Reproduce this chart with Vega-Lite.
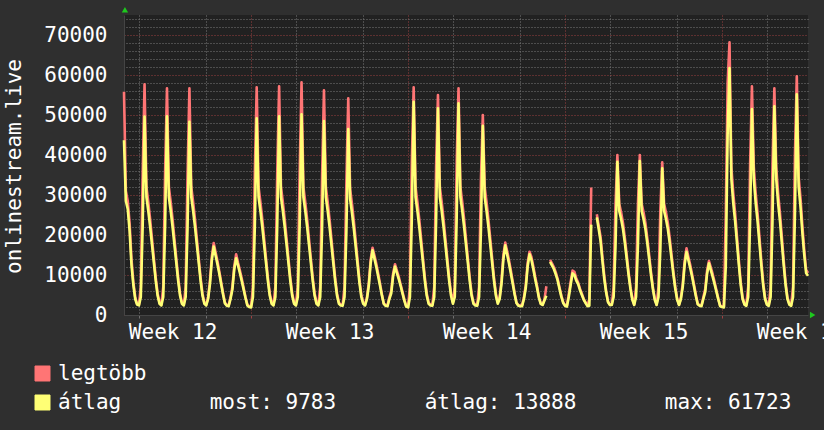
{
"$schema":"https://vega.github.io/schema/vega-lite/v6.json",
"width":684,"height":300,
"autosize":{"type":"none"},
"padding":{"left":124,"top":15,"right":16,"bottom":115},
"background":"#2f2f2f",
"config":{"view":{"fill":"#212121","stroke":null},"font":"DejaVu Sans Mono"},
"data":{"values":[
{"t":"2024-03-19T08:00Z","a":43700,"m":55800},{"t":"2024-03-19T10:00Z","a":28500,"m":31000},{"t":"2024-03-19T12:00Z","a":26500,"m":28500},{"t":"2024-03-19T14:00Z","a":21000,"m":23000},{"t":"2024-03-19T16:00Z","a":12500,"m":14000},{"t":"2024-03-19T18:00Z","a":7500,"m":8300},{"t":"2024-03-19T20:00Z","a":4000,"m":4500},{"t":"2024-03-19T22:00Z","a":2600,"m":2800},
{"t":"2024-03-20T00:00Z","a":2400,"m":2600},{"t":"2024-03-20T02:00Z","a":4500,"m":7000},{"t":"2024-03-20T04:00Z","a":22300,"m":35700},{"t":"2024-03-20T06:00Z","a":49600,"m":57700},{"t":"2024-03-20T08:00Z","a":29500,"m":32000},{"t":"2024-03-20T10:00Z","a":26000,"m":28200},{"t":"2024-03-20T12:00Z","a":22000,"m":23900},{"t":"2024-03-20T14:00Z","a":17500,"m":19000},{"t":"2024-03-20T16:00Z","a":13000,"m":14100},{"t":"2024-03-20T18:00Z","a":8500,"m":9300},{"t":"2024-03-20T20:00Z","a":4800,"m":5400},{"t":"2024-03-20T22:00Z","a":2800,"m":3100},
{"t":"2024-03-21T00:00Z","a":2400,"m":2600},{"t":"2024-03-21T02:00Z","a":4500,"m":7000},{"t":"2024-03-21T04:00Z","a":22400,"m":35800},{"t":"2024-03-21T06:00Z","a":49700,"m":56700},{"t":"2024-03-21T08:00Z","a":29500,"m":32000},{"t":"2024-03-21T10:00Z","a":26000,"m":28200},{"t":"2024-03-21T12:00Z","a":22000,"m":23900},{"t":"2024-03-21T14:00Z","a":17500,"m":19000},{"t":"2024-03-21T16:00Z","a":13000,"m":14100},{"t":"2024-03-21T18:00Z","a":8500,"m":9300},{"t":"2024-03-21T20:00Z","a":4800,"m":5400},{"t":"2024-03-21T22:00Z","a":2800,"m":3100},
{"t":"2024-03-22T00:00Z","a":2400,"m":2600},{"t":"2024-03-22T02:00Z","a":4500,"m":7000},{"t":"2024-03-22T04:00Z","a":21700,"m":34800},{"t":"2024-03-22T06:00Z","a":48300,"m":56700},{"t":"2024-03-22T08:00Z","a":29500,"m":32000},{"t":"2024-03-22T10:00Z","a":26000,"m":28200},{"t":"2024-03-22T12:00Z","a":22000,"m":23900},{"t":"2024-03-22T14:00Z","a":17500,"m":19000},{"t":"2024-03-22T16:00Z","a":13000,"m":14100},{"t":"2024-03-22T18:00Z","a":8500,"m":9300},{"t":"2024-03-22T20:00Z","a":4800,"m":5400},{"t":"2024-03-22T22:00Z","a":2800,"m":3100},
{"t":"2024-03-23T00:00Z","a":2400,"m":2600},{"t":"2024-03-23T02:00Z","a":4000,"m":4400},{"t":"2024-03-23T04:00Z","a":7700,"m":8600},{"t":"2024-03-23T06:00Z","a":13700,"m":14700},{"t":"2024-03-23T08:00Z","a":17100,"m":18000},{"t":"2024-03-23T10:00Z","a":14900,"m":15700},{"t":"2024-03-23T12:00Z","a":12700,"m":13500},{"t":"2024-03-23T14:00Z","a":10300,"m":10900},{"t":"2024-03-23T16:00Z","a":7700,"m":8200},{"t":"2024-03-23T18:00Z","a":5100,"m":5500},{"t":"2024-03-23T20:00Z","a":2900,"m":3100},{"t":"2024-03-23T22:00Z","a":2300,"m":2500},
{"t":"2024-03-24T00:00Z","a":2200,"m":2400},{"t":"2024-03-24T02:00Z","a":4000,"m":4400},{"t":"2024-03-24T04:00Z","a":6400,"m":7100},{"t":"2024-03-24T06:00Z","a":11400,"m":12200},{"t":"2024-03-24T08:00Z","a":14200,"m":15200},{"t":"2024-03-24T10:00Z","a":12400,"m":13100},{"t":"2024-03-24T12:00Z","a":10500,"m":11200},{"t":"2024-03-24T14:00Z","a":8500,"m":9100},{"t":"2024-03-24T16:00Z","a":6400,"m":6800},{"t":"2024-03-24T18:00Z","a":4300,"m":4500},{"t":"2024-03-24T20:00Z","a":2400,"m":2600},{"t":"2024-03-24T22:00Z","a":2000,"m":2200},
{"t":"2024-03-25T00:00Z","a":1900,"m":2100},{"t":"2024-03-25T02:00Z","a":4500,"m":7000},{"t":"2024-03-25T04:00Z","a":22100,"m":35400},{"t":"2024-03-25T06:00Z","a":49200,"m":56900},{"t":"2024-03-25T08:00Z","a":29500,"m":32000},{"t":"2024-03-25T10:00Z","a":26000,"m":28200},{"t":"2024-03-25T12:00Z","a":22000,"m":23900},{"t":"2024-03-25T14:00Z","a":17500,"m":19000},{"t":"2024-03-25T16:00Z","a":13000,"m":14100},{"t":"2024-03-25T18:00Z","a":8500,"m":9300},{"t":"2024-03-25T20:00Z","a":4800,"m":5400},{"t":"2024-03-25T22:00Z","a":2800,"m":3100},
{"t":"2024-03-26T00:00Z","a":2400,"m":2600},{"t":"2024-03-26T02:00Z","a":4500,"m":7000},{"t":"2024-03-26T04:00Z","a":22400,"m":35800},{"t":"2024-03-26T06:00Z","a":49700,"m":57200},{"t":"2024-03-26T08:00Z","a":29500,"m":32000},{"t":"2024-03-26T10:00Z","a":26000,"m":28200},{"t":"2024-03-26T12:00Z","a":22000,"m":23900},{"t":"2024-03-26T14:00Z","a":17500,"m":19000},{"t":"2024-03-26T16:00Z","a":13000,"m":14100},{"t":"2024-03-26T18:00Z","a":8500,"m":9300},{"t":"2024-03-26T20:00Z","a":4800,"m":5400},{"t":"2024-03-26T22:00Z","a":2800,"m":3100},
{"t":"2024-03-27T00:00Z","a":2400,"m":2600},{"t":"2024-03-27T02:00Z","a":4500,"m":7000},{"t":"2024-03-27T04:00Z","a":22600,"m":36100},{"t":"2024-03-27T06:00Z","a":50200,"m":58200},{"t":"2024-03-27T08:00Z","a":29500,"m":32000},{"t":"2024-03-27T10:00Z","a":26000,"m":28200},{"t":"2024-03-27T12:00Z","a":22000,"m":23900},{"t":"2024-03-27T14:00Z","a":17500,"m":19000},{"t":"2024-03-27T16:00Z","a":13000,"m":14100},{"t":"2024-03-27T18:00Z","a":8500,"m":9300},{"t":"2024-03-27T20:00Z","a":4800,"m":5400},{"t":"2024-03-27T22:00Z","a":2800,"m":3100},
{"t":"2024-03-28T00:00Z","a":2400,"m":2600},{"t":"2024-03-28T02:00Z","a":4500,"m":7000},{"t":"2024-03-28T04:00Z","a":21800,"m":34900},{"t":"2024-03-28T06:00Z","a":48500,"m":56200},{"t":"2024-03-28T08:00Z","a":29500,"m":32000},{"t":"2024-03-28T10:00Z","a":26000,"m":28200},{"t":"2024-03-28T12:00Z","a":22000,"m":23900},{"t":"2024-03-28T14:00Z","a":17500,"m":19000},{"t":"2024-03-28T16:00Z","a":13000,"m":14100},{"t":"2024-03-28T18:00Z","a":8500,"m":9300},{"t":"2024-03-28T20:00Z","a":4800,"m":5400},{"t":"2024-03-28T22:00Z","a":2800,"m":3100},
{"t":"2024-03-29T00:00Z","a":2400,"m":2600},{"t":"2024-03-29T02:00Z","a":2300,"m":2500},{"t":"2024-03-29T04:00Z","a":4500,"m":7000},{"t":"2024-03-29T06:00Z","a":20900,"m":33500},{"t":"2024-03-29T08:00Z","a":46500,"m":54200},{"t":"2024-03-29T10:00Z","a":29000,"m":31500},{"t":"2024-03-29T12:00Z","a":25500,"m":27700},{"t":"2024-03-29T14:00Z","a":21500,"m":23400},{"t":"2024-03-29T16:00Z","a":17000,"m":18500},{"t":"2024-03-29T18:00Z","a":12500,"m":13600},{"t":"2024-03-29T20:00Z","a":8000,"m":8800},{"t":"2024-03-29T22:00Z","a":4500,"m":5000},
{"t":"2024-03-30T00:00Z","a":2800,"m":3100},{"t":"2024-03-30T02:00Z","a":2400,"m":2600},{"t":"2024-03-30T04:00Z","a":4000,"m":4400},{"t":"2024-03-30T06:00Z","a":7300,"m":8100},{"t":"2024-03-30T08:00Z","a":13000,"m":13900},{"t":"2024-03-30T10:00Z","a":16200,"m":16800},{"t":"2024-03-30T12:00Z","a":14100,"m":14900},{"t":"2024-03-30T14:00Z","a":12000,"m":12800},{"t":"2024-03-30T16:00Z","a":9700,"m":10400},{"t":"2024-03-30T18:00Z","a":7300,"m":7800},{"t":"2024-03-30T20:00Z","a":4900,"m":5200},{"t":"2024-03-30T22:00Z","a":2800,"m":2900},
{"t":"2024-03-31T00:00Z","a":2300,"m":2500},{"t":"2024-03-31T02:00Z","a":2200,"m":2400},{"t":"2024-03-31T04:00Z","a":4000,"m":4400},{"t":"2024-03-31T06:00Z","a":5400,"m":6100},{"t":"2024-03-31T08:00Z","a":9700,"m":10400},{"t":"2024-03-31T10:00Z","a":12100,"m":12700},{"t":"2024-03-31T12:00Z","a":10500,"m":11100},{"t":"2024-03-31T14:00Z","a":9000,"m":9600},{"t":"2024-03-31T16:00Z","a":7300,"m":7700},{"t":"2024-03-31T18:00Z","a":5400,"m":5800},{"t":"2024-03-31T20:00Z","a":3600,"m":3900},{"t":"2024-03-31T22:00Z","a":2100,"m":2200},
{"t":"2024-04-01T00:00Z","a":1900,"m":2100},{"t":"2024-04-01T02:00Z","a":4500,"m":7000},{"t":"2024-04-01T04:00Z","a":24000,"m":38400},{"t":"2024-04-01T06:00Z","a":53300,"m":56900},{"t":"2024-04-01T08:00Z","a":29500,"m":32000},{"t":"2024-04-01T10:00Z","a":26000,"m":28200},{"t":"2024-04-01T12:00Z","a":22000,"m":23900},{"t":"2024-04-01T14:00Z","a":17500,"m":19000},{"t":"2024-04-01T16:00Z","a":13000,"m":14100},{"t":"2024-04-01T18:00Z","a":8500,"m":9300},{"t":"2024-04-01T20:00Z","a":4800,"m":5400},{"t":"2024-04-01T22:00Z","a":2800,"m":3100},
{"t":"2024-04-02T00:00Z","a":2400,"m":2600},{"t":"2024-04-02T02:00Z","a":2300,"m":2500},{"t":"2024-04-02T04:00Z","a":4500,"m":7000},{"t":"2024-04-02T06:00Z","a":23300,"m":37200},{"t":"2024-04-02T08:00Z","a":51700,"m":55000},{"t":"2024-04-02T10:00Z","a":29500,"m":32000},{"t":"2024-04-02T12:00Z","a":26000,"m":28200},{"t":"2024-04-02T14:00Z","a":22000,"m":23900},{"t":"2024-04-02T16:00Z","a":17500,"m":19000},{"t":"2024-04-02T18:00Z","a":13000,"m":14100},{"t":"2024-04-02T20:00Z","a":8500,"m":9300},{"t":"2024-04-02T22:00Z","a":4800,"m":5400},
{"t":"2024-04-03T00:00Z","a":2800,"m":3100},{"t":"2024-04-03T02:00Z","a":4500,"m":7000},{"t":"2024-04-03T04:00Z","a":23800,"m":38100},{"t":"2024-04-03T06:00Z","a":52900,"m":56700},{"t":"2024-04-03T08:00Z","a":29500,"m":32000},{"t":"2024-04-03T10:00Z","a":26000,"m":28200},{"t":"2024-04-03T12:00Z","a":22000,"m":23900},{"t":"2024-04-03T14:00Z","a":17500,"m":19000},{"t":"2024-04-03T16:00Z","a":13000,"m":14100},{"t":"2024-04-03T18:00Z","a":8500,"m":9300},{"t":"2024-04-03T20:00Z","a":4800,"m":5400},{"t":"2024-04-03T22:00Z","a":2800,"m":3100},
{"t":"2024-04-04T00:00Z","a":2400,"m":2600},{"t":"2024-04-04T02:00Z","a":2300,"m":2500},{"t":"2024-04-04T04:00Z","a":4500,"m":7000},{"t":"2024-04-04T06:00Z","a":21300,"m":34100},{"t":"2024-04-04T08:00Z","a":47300,"m":50000},{"t":"2024-04-04T10:00Z","a":29500,"m":32000},{"t":"2024-04-04T12:00Z","a":26000,"m":28200},{"t":"2024-04-04T14:00Z","a":22000,"m":23900},{"t":"2024-04-04T16:00Z","a":17500,"m":19000},{"t":"2024-04-04T18:00Z","a":13000,"m":14100},{"t":"2024-04-04T20:00Z","a":8500,"m":9300},{"t":"2024-04-04T22:00Z","a":4800,"m":5400},
{"t":"2024-04-05T00:00Z","a":2800,"m":3100},{"t":"2024-04-05T02:00Z","a":4000,"m":4400},{"t":"2024-04-05T04:00Z","a":7800,"m":8700},{"t":"2024-04-05T06:00Z","a":13900,"m":15000},{"t":"2024-04-05T08:00Z","a":17400,"m":18100},{"t":"2024-04-05T10:00Z","a":15100,"m":16000},{"t":"2024-04-05T12:00Z","a":12900,"m":13700},{"t":"2024-04-05T14:00Z","a":10400,"m":11100},{"t":"2024-04-05T16:00Z","a":7800,"m":8400},{"t":"2024-04-05T18:00Z","a":5200,"m":5600},{"t":"2024-04-05T20:00Z","a":3000,"m":3100},{"t":"2024-04-05T22:00Z","a":2300,"m":2500},
{"t":"2024-04-06T00:00Z","a":2200,"m":2400},{"t":"2024-04-06T02:00Z","a":2200,"m":2400},{"t":"2024-04-06T04:00Z","a":4000,"m":4400},{"t":"2024-04-06T06:00Z","a":6800,"m":7600},{"t":"2024-04-06T08:00Z","a":12200,"m":13100},{"t":"2024-04-06T10:00Z","a":15200,"m":15800},{"t":"2024-04-06T12:00Z","a":13800,"m":14500},{"t":"2024-04-06T14:00Z","a":11500,"m":12200},{"t":"2024-04-06T16:00Z","a":9000,"m":9600},{"t":"2024-04-06T18:00Z","a":6800,"m":7300},{"t":"2024-04-06T20:00Z","a":4300,"m":4600},{"t":"2024-04-06T22:00Z","a":2800,"m":2900},
{"t":"2024-04-07T00:00Z","a":2500,"m":2600},{"t":"2024-04-07T02:00Z","a":3700,"m":3900},{"t":"2024-04-07T04:00Z","a":4800,"m":7200},{"t":"2024-04-07T06:00Z","a":null,"m":null},{"t":"2024-04-07T08:00Z","a":13300,"m":13800},{"t":"2024-04-07T10:00Z","a":12400,"m":12900},{"t":"2024-04-07T12:00Z","a":11500,"m":12000},{"t":"2024-04-07T14:00Z","a":10200,"m":10700},{"t":"2024-04-07T16:00Z","a":8700,"m":9100},{"t":"2024-04-07T18:00Z","a":6600,"m":7000},{"t":"2024-04-07T20:00Z","a":4600,"m":4900},{"t":"2024-04-07T22:00Z","a":3000,"m":3200},
{"t":"2024-04-08T00:00Z","a":2300,"m":2400},{"t":"2024-04-08T02:00Z","a":2100,"m":2300},{"t":"2024-04-08T04:00Z","a":4500,"m":5200},{"t":"2024-04-08T06:00Z","a":7500,"m":8300},{"t":"2024-04-08T08:00Z","a":10400,"m":11100},{"t":"2024-04-08T10:00Z","a":10000,"m":10800},{"t":"2024-04-08T12:00Z","a":8600,"m":9200},{"t":"2024-04-08T14:00Z","a":7700,"m":8100},{"t":"2024-04-08T16:00Z","a":6200,"m":6600},{"t":"2024-04-08T18:00Z","a":5000,"m":5300},{"t":"2024-04-08T20:00Z","a":3800,"m":4000},{"t":"2024-04-08T22:00Z","a":3000,"m":3100},
{"t":"2024-04-09T00:00Z","a":2200,"m":2400},{"t":"2024-04-09T02:00Z","a":2300,"m":4000},{"t":"2024-04-09T04:00Z","a":22600,"m":31900},{"t":"2024-04-09T06:00Z","a":null,"m":null},{"t":"2024-04-09T08:00Z","a":null,"m":null},{"t":"2024-04-09T10:00Z","a":24400,"m":25200},{"t":"2024-04-09T12:00Z","a":21500,"m":22300},{"t":"2024-04-09T14:00Z","a":18500,"m":19600},{"t":"2024-04-09T16:00Z","a":13500,"m":14500},{"t":"2024-04-09T18:00Z","a":9000,"m":9800},{"t":"2024-04-09T20:00Z","a":5600,"m":6000},{"t":"2024-04-09T22:00Z","a":3200,"m":3400},
{"t":"2024-04-10T00:00Z","a":2500,"m":2600},{"t":"2024-04-10T02:00Z","a":2500,"m":2600},{"t":"2024-04-10T04:00Z","a":4500,"m":7000},{"t":"2024-04-10T06:00Z","a":17200,"m":27600},{"t":"2024-04-10T08:00Z","a":38300,"m":40000},{"t":"2024-04-10T10:00Z","a":26000,"m":27800},{"t":"2024-04-10T12:00Z","a":24000,"m":25700},{"t":"2024-04-10T14:00Z","a":21500,"m":23000},{"t":"2024-04-10T16:00Z","a":18000,"m":19300},{"t":"2024-04-10T18:00Z","a":14000,"m":15000},{"t":"2024-04-10T20:00Z","a":10000,"m":10700},{"t":"2024-04-10T22:00Z","a":6500,"m":7000},
{"t":"2024-04-11T00:00Z","a":3800,"m":4100},{"t":"2024-04-11T02:00Z","a":2500,"m":2600},{"t":"2024-04-11T04:00Z","a":4500,"m":7000},{"t":"2024-04-11T06:00Z","a":17300,"m":27700},{"t":"2024-04-11T08:00Z","a":38500,"m":40000},{"t":"2024-04-11T10:00Z","a":26000,"m":27800},{"t":"2024-04-11T12:00Z","a":24000,"m":25700},{"t":"2024-04-11T14:00Z","a":21500,"m":23000},{"t":"2024-04-11T16:00Z","a":18000,"m":19300},{"t":"2024-04-11T18:00Z","a":14000,"m":15000},{"t":"2024-04-11T20:00Z","a":10000,"m":10700},{"t":"2024-04-11T22:00Z","a":6500,"m":7000},
{"t":"2024-04-12T00:00Z","a":3800,"m":4100},{"t":"2024-04-12T02:00Z","a":2500,"m":2600},{"t":"2024-04-12T04:00Z","a":4500,"m":7000},{"t":"2024-04-12T06:00Z","a":16500,"m":26400},{"t":"2024-04-12T08:00Z","a":36700,"m":38200},{"t":"2024-04-12T10:00Z","a":26000,"m":27800},{"t":"2024-04-12T12:00Z","a":24000,"m":25700},{"t":"2024-04-12T14:00Z","a":21500,"m":23000},{"t":"2024-04-12T16:00Z","a":18000,"m":19300},{"t":"2024-04-12T18:00Z","a":14000,"m":15000},{"t":"2024-04-12T20:00Z","a":10000,"m":10700},{"t":"2024-04-12T22:00Z","a":6500,"m":7000},
{"t":"2024-04-13T00:00Z","a":3800,"m":4100},{"t":"2024-04-13T02:00Z","a":2500,"m":2600},{"t":"2024-04-13T04:00Z","a":4000,"m":4400},{"t":"2024-04-13T06:00Z","a":7100,"m":7900},{"t":"2024-04-13T08:00Z","a":12600,"m":13600},{"t":"2024-04-13T10:00Z","a":15800,"m":16700},{"t":"2024-04-13T12:00Z","a":13700,"m":14500},{"t":"2024-04-13T14:00Z","a":11700,"m":12500},{"t":"2024-04-13T16:00Z","a":9500,"m":10100},{"t":"2024-04-13T18:00Z","a":7100,"m":7600},{"t":"2024-04-13T20:00Z","a":4700,"m":5100},{"t":"2024-04-13T22:00Z","a":2700,"m":2800},
{"t":"2024-04-14T00:00Z","a":2300,"m":2500},{"t":"2024-04-14T02:00Z","a":2200,"m":2400},{"t":"2024-04-14T04:00Z","a":4000,"m":4400},{"t":"2024-04-14T06:00Z","a":5800,"m":6500},{"t":"2024-04-14T08:00Z","a":10300,"m":11100},{"t":"2024-04-14T10:00Z","a":12900,"m":13500},{"t":"2024-04-14T12:00Z","a":11200,"m":11900},{"t":"2024-04-14T14:00Z","a":9500,"m":10200},{"t":"2024-04-14T16:00Z","a":7700,"m":8300},{"t":"2024-04-14T18:00Z","a":5800,"m":6200},{"t":"2024-04-14T20:00Z","a":3900,"m":4100},{"t":"2024-04-14T22:00Z","a":2200,"m":2300},
{"t":"2024-04-15T00:00Z","a":2000,"m":2200},{"t":"2024-04-15T02:00Z","a":1900,"m":2100},{"t":"2024-04-15T04:00Z","a":12000,"m":25000},{"t":"2024-04-15T06:00Z","a":45000,"m":58000},{"t":"2024-04-15T08:00Z","a":61723,"m":68200},{"t":"2024-04-15T10:00Z","a":34000,"m":37000},{"t":"2024-04-15T12:00Z","a":28000,"m":30500},{"t":"2024-04-15T14:00Z","a":23500,"m":25500},{"t":"2024-04-15T16:00Z","a":18000,"m":19600},{"t":"2024-04-15T18:00Z","a":12500,"m":13600},{"t":"2024-04-15T20:00Z","a":7500,"m":8200},{"t":"2024-04-15T22:00Z","a":4000,"m":4400},
{"t":"2024-04-16T00:00Z","a":2600,"m":2800},{"t":"2024-04-16T02:00Z","a":2300,"m":2500},{"t":"2024-04-16T04:00Z","a":4500,"m":7000},{"t":"2024-04-16T06:00Z","a":23200,"m":37100},{"t":"2024-04-16T08:00Z","a":51500,"m":57200},{"t":"2024-04-16T10:00Z","a":34000,"m":37000},{"t":"2024-04-16T12:00Z","a":28000,"m":30500},{"t":"2024-04-16T14:00Z","a":23500,"m":25500},{"t":"2024-04-16T16:00Z","a":18000,"m":19600},{"t":"2024-04-16T18:00Z","a":12500,"m":13600},{"t":"2024-04-16T20:00Z","a":7500,"m":8200},{"t":"2024-04-16T22:00Z","a":4000,"m":4400},
{"t":"2024-04-17T00:00Z","a":2600,"m":2800},{"t":"2024-04-17T02:00Z","a":2300,"m":2500},{"t":"2024-04-17T04:00Z","a":4500,"m":7000},{"t":"2024-04-17T06:00Z","a":23500,"m":37600},{"t":"2024-04-17T08:00Z","a":52200,"m":56700},{"t":"2024-04-17T10:00Z","a":34000,"m":37000},{"t":"2024-04-17T12:00Z","a":28000,"m":30500},{"t":"2024-04-17T14:00Z","a":23500,"m":25500},{"t":"2024-04-17T16:00Z","a":18000,"m":19600},{"t":"2024-04-17T18:00Z","a":12500,"m":13600},{"t":"2024-04-17T20:00Z","a":7500,"m":8200},{"t":"2024-04-17T22:00Z","a":4000,"m":4400},
{"t":"2024-04-18T00:00Z","a":2600,"m":2800},{"t":"2024-04-18T02:00Z","a":2300,"m":2500},{"t":"2024-04-18T04:00Z","a":4500,"m":7000},{"t":"2024-04-18T06:00Z","a":24800,"m":39700},{"t":"2024-04-18T08:00Z","a":55200,"m":59700},{"t":"2024-04-18T10:00Z","a":32000,"m":34500},{"t":"2024-04-18T12:00Z","a":27000,"m":29200},{"t":"2024-04-18T14:00Z","a":20500,"m":22200},{"t":"2024-04-18T16:00Z","a":15000,"m":16200},{"t":"2024-04-18T18:00Z","a":10500,"m":11300},{"t":"2024-04-18T20:00Z","a":9783,"m":10500}
]},
"resolve":{"axis":{"y":"independent"}},
"layer":[
{"mark":{"type":"line","strokeWidth":2.6,"strokeJoin":"round"},
"encoding":{
"x":{"field":"t","type":"temporal",
"scale":{"type":"utc","domain":[1710835200000,1713470400000]},
"axis":{"title":null,
"values":[1710892800000,1710979200000,1711022400000,1711065600000,1711152000000,1711238400000,1711324800000,1711411200000,1711497600000,1711584000000,1711627200000,1711670400000,1711756800000,1711843200000,1711929600000,1712016000000,1712102400000,1712188800000,1712232000000,1712275200000,1712361600000,1712448000000,1712534400000,1712620800000,1712707200000,1712793600000,1712836800000,1712880000000,1712966400000,1713052800000,1713139200000,1713225600000,1713312000000,1713398400000,1713441600000],
"labelExpr":"utchours(datum.value) === 12 ? 'Week ' + utcFormat(datum.value, '%V') : ''",
"labelFont":"DejaVu Sans Mono","labelFontSize":21,"labelColor":"#ffffff","labelOverlap":false,"labelFlush":false,"labelBaseline":"alphabetic","labelPadding":20,
"tickSize":3,"tickWidth":1,
"tickColor":{"condition":{"test":"utcday(datum.value) === 1 && utchours(datum.value) === 0","value":"#a04040"},"value":"#707070"},
"tickOpacity":{"condition":{"test":"utchours(datum.value) === 12","value":0},"value":1},
"grid":true,
"gridColor":{"condition":{"test":"utcday(datum.value) === 1 && utchours(datum.value) === 0","value":"#9a4040"},"value":"#7a7a7a"},
"gridOpacity":{"condition":{"test":"utchours(datum.value) === 12","value":0},"value":1},
"gridDash":[1,2],"domainColor":"#454545"}},
"y":{"field":"m","type":"quantitative","scale":{"domain":[0,75000],"nice":false},
"axis":{"orient":"left","title":"onlinestream.live","titleFont":"DejaVu Sans Mono","titleFontSize":21,"titleFontWeight":"normal","titleColor":"#ffffff","titleAngle":-90,"titleX":-110,"titleY":151,"titleBaseline":"middle","titleAlign":"center",
"values":[0,10000,20000,30000,40000,50000,60000,70000],
"format":"d",
"labelFont":"DejaVu Sans Mono","labelFontSize":21,"labelColor":"#ffffff","labelPadding":17,"labelOverlap":false,
"ticks":false,"tickSize":0,
"grid":true,"gridColor":"#9a4040","gridDash":[1,2],"domainColor":"#454545"}},
"color":{"datum":"legtöbb","type":"nominal","scale":{"domain":["legtöbb","átlag"],"range":["#ff7575","#ffff75"]},
"legend":{"orient":"none","legendX":-92,"legendY":348,"direction":"vertical","title":null,"padding":0,
"labelFont":"DejaVu Sans Mono","labelFontSize":21,"labelColor":"#ffffff","labelOffset":5,"labelLimit":1000,"rowPadding":7,
"symbolType":"square","symbolSize":225,"symbolStrokeColor":"#000000","symbolStrokeWidth":1,
"labelExpr":"datum.label === 'átlag' ? 'átlag\u00a0\u00a0\u00a0\u00a0\u00a0\u00a0\u00a0most: 9783\u00a0\u00a0\u00a0\u00a0\u00a0\u00a0\u00a0átlag: 13888\u00a0\u00a0\u00a0\u00a0\u00a0\u00a0\u00a0max: 61723' : datum.label",
"encode":{"symbols":{"update":{"fill":{"scale":"color","field":"value"},"stroke":{"value":"#000000"},"strokeWidth":{"value":1},"opacity":{"value":1}}}}}}
}},
{"mark":{"type":"line","strokeWidth":2.6,"strokeJoin":"round"},
"encoding":{
"x":{"field":"t","type":"temporal",
"scale":{"type":"utc","domain":[1710835200000,1713470400000]},
"axis":{"title":null,
"values":[1710892800000,1710979200000,1711022400000,1711065600000,1711152000000,1711238400000,1711324800000,1711411200000,1711497600000,1711584000000,1711627200000,1711670400000,1711756800000,1711843200000,1711929600000,1712016000000,1712102400000,1712188800000,1712232000000,1712275200000,1712361600000,1712448000000,1712534400000,1712620800000,1712707200000,1712793600000,1712836800000,1712880000000,1712966400000,1713052800000,1713139200000,1713225600000,1713312000000,1713398400000,1713441600000],
"labelExpr":"utchours(datum.value) === 12 ? 'Week ' + utcFormat(datum.value, '%V') : ''",
"labelFont":"DejaVu Sans Mono","labelFontSize":21,"labelColor":"#ffffff","labelOverlap":false,"labelFlush":false,"labelBaseline":"alphabetic","labelPadding":20,
"tickSize":3,"tickWidth":1,
"tickColor":{"condition":{"test":"utcday(datum.value) === 1 && utchours(datum.value) === 0","value":"#a04040"},"value":"#707070"},
"tickOpacity":{"condition":{"test":"utchours(datum.value) === 12","value":0},"value":1},
"grid":true,
"gridColor":{"condition":{"test":"utcday(datum.value) === 1 && utchours(datum.value) === 0","value":"#9a4040"},"value":"#7a7a7a"},
"gridOpacity":{"condition":{"test":"utchours(datum.value) === 12","value":0},"value":1},
"gridDash":[1,2],"domainColor":"#454545"}},
"y":{"field":"a","type":"quantitative",
"axis":{"orient":"right","title":null,"labels":false,"ticks":false,"domain":false,
"values":[2000,4000,6000,8000,12000,14000,16000,18000,22000,24000,26000,28000,32000,34000,36000,38000,42000,44000,46000,48000,52000,54000,56000,58000,62000,64000,66000,68000,72000,74000],
"grid":true,"gridColor":"#7a7a7a","gridDash":[1,2]}},
"color":{"datum":"átlag","type":"nominal"}
}},
{"data":{"values":[{}]},
"mark":{"type":"point","shape":"triangle-up","filled":true,"color":"#1ec81e","size":40,"opacity":1},
"encoding":{"x":{"datum":1710838800000,"type":"temporal"},"y":{"datum":76300,"type":"quantitative","axis":null}}},
{"data":{"values":[{}]},
"mark":{"type":"point","shape":"triangle-right","filled":true,"color":"#1ec81e","size":40,"opacity":1},
"encoding":{"x":{"datum":1713488400000,"type":"temporal"},"y":{"datum":0,"type":"quantitative","axis":null}}}
]
}
